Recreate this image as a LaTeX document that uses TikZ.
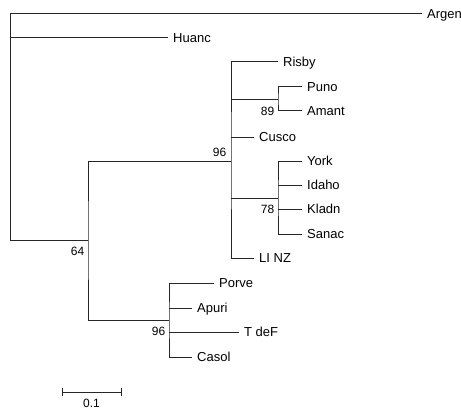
\documentclass[tikz,border=0pt]{standalone}
\usepackage{fontspec}
\setmainfont{Liberation Sans}
\begin{document}
\begin{tikzpicture}[x=1pt,y=-1pt,
  branch/.style={line width=1pt, draw=black!85},
  leaf/.style={anchor=west, inner sep=0pt, font=\fontsize{13}{15}\selectfont, text height=9pt, text depth=0pt},
  boot/.style={anchor=east, inner sep=0pt, font=\fontsize{12}{14}\selectfont, text height=8.6pt, text depth=0pt}]
\useasboundingbox (0,0) rectangle (461,412);
% leaf tips
\coordinate (tArgen) at (422,14);
\coordinate (tHuanc) at (168,38);
\coordinate (tRisby) at (278,62);
\coordinate (tPuno)  at (302,87);
\coordinate (tAmant) at (302,111);
\coordinate (tCusco) at (254,137);
\coordinate (tYork)  at (302,161);
\coordinate (tIdaho) at (302,185);
\coordinate (tKladn) at (302,209);
\coordinate (tSanac) at (302,234);
\coordinate (tLINZ)  at (254,258);
\coordinate (tPorve) at (214,283);
\coordinate (tApuri) at (192,308);
\coordinate (tTdeF)  at (239,332);
\coordinate (tCasol) at (192,357);
% internal nodes
\coordinate (root) at (10,240);
\coordinate (n64)  at (88,240);
\coordinate (n96a) at (231,161);
\coordinate (n89)  at (278,100);
\coordinate (n78)  at (278,198);
\coordinate (n96b) at (169,320);
% leaf labels
\node[leaf] (Argen) at ([xshift=5pt]tArgen) {Argen};
\node[leaf] (Huanc) at ([xshift=5pt]tHuanc) {Huanc};
\node[leaf] (Risby) at ([xshift=5pt]tRisby) {Risby};
\node[leaf] (Puno)  at ([xshift=5pt]tPuno)  {Puno};
\node[leaf] (Amant) at ([xshift=5pt]tAmant) {Amant};
\node[leaf] (Cusco) at ([xshift=5pt]tCusco) {Cusco};
\node[leaf] (York)  at ([xshift=5pt]tYork)  {York};
\node[leaf] (Idaho) at ([xshift=5pt]tIdaho) {Idaho};
\node[leaf] (Kladn) at ([xshift=5pt]tKladn) {Kladn};
\node[leaf] (Sanac) at ([xshift=5pt]tSanac) {Sanac};
\node[leaf] (LINZ)  at ([xshift=5pt]tLINZ)  {LI NZ};
\node[leaf] (Porve) at ([xshift=5pt]tPorve) {Porve};
\node[leaf] (Apuri) at ([xshift=5pt]tApuri) {Apuri};
\node[leaf] (TdeF)  at ([xshift=5pt]tTdeF)  {T deF};
\node[leaf] (Casol) at ([xshift=5pt]tCasol) {Casol};
% branches
\draw[branch] (tArgen) -| (root);
\draw[branch] (tHuanc) -- (tHuanc -| root);
\draw[branch] (root) -- (n64);
\draw[branch] (n96a) -| (n64) |- (n96b);
\draw[branch] (tRisby) -| (n96a) |- (tLINZ);
\draw[branch] (n89) -- (n89 -| n96a);
\draw[branch] (tCusco) -- (tCusco -| n96a);
\draw[branch] (n78) -- (n78 -| n96a);
\draw[branch] (tPuno) -| (n89) |- (tAmant);
\draw[branch] (tYork) -| (n78) |- (tSanac);
\draw[branch] (tIdaho) -- (tIdaho -| n78);
\draw[branch] (tKladn) -- (tKladn -| n78);
\draw[branch] (tPorve) -| (n96b) |- (tCasol);
\draw[branch] (tApuri) -- (tApuri -| n96b);
\draw[branch] (tTdeF) -- (tTdeF -| n96b);
% bootstrap values
\node[boot] (b64)  at (84.5,251.5) {64};
\node[boot] (b96a) at (226.5,152) {96};
\node[boot] (b89)  at (274.5,111) {89};
\node[boot] (b78)  at (274.5,209) {78};
\node[boot] (b96b) at (165.5,331.5) {96};
% scale bar
\coordinate (sbL) at (62,392);
\coordinate (sbR) at (121,392);
\draw[branch] (sbL) -- (sbR);
\draw[branch] ([yshift=4pt]sbL) -- ([yshift=-4pt]sbL);
\draw[branch] ([yshift=4pt]sbR) -- ([yshift=-4pt]sbR);
\node[boot, anchor=center] (sblabel) at (91.5,403) {0.1};
\end{tikzpicture}
\end{document}
